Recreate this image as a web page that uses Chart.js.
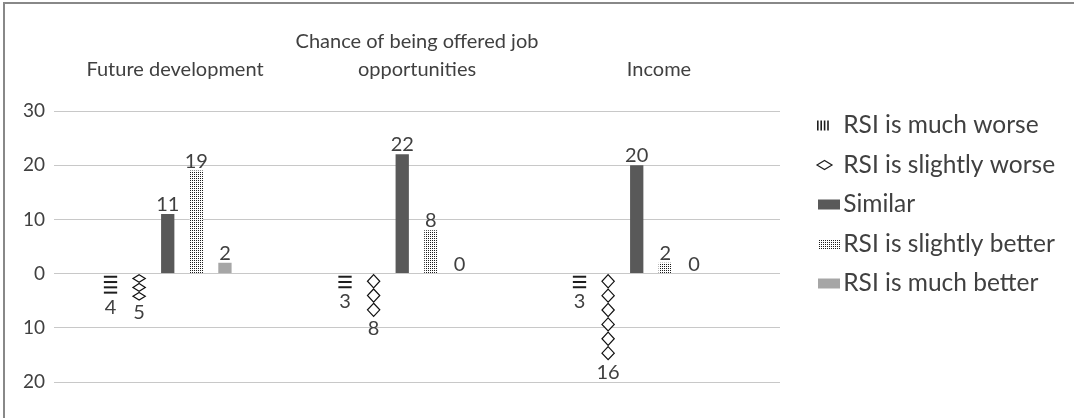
<!DOCTYPE html>
<html>
<head>
<meta charset="utf-8">
<script src="https://cdn.jsdelivr.net/npm/chart.js@4.4.1/dist/chart.umd.min.js"></script>
<style>
  html, body { margin: 0; padding: 0; background: #fff; }
  #wrap { position: relative; width: 1074px; height: 418px; overflow: hidden; }
  #frame { position: absolute; left: 3px; top: 2px; width: 1080px; height: 430px; border: 2px solid #888; }
  canvas { position: absolute; left: 0; top: 0; }
</style>
</head>
<body>
<div id="wrap">
  <div id="frame"></div>
  <canvas id="myChart" width="1074" height="418"></canvas>
</div>
<script>
const categories = ['Future development', ['Chance of being offered job', 'opportunities'], 'Income'];
const seriesNames = ['RSI is much worse', 'RSI is slightly worse', 'Similar', 'RSI is slightly better', 'RSI is much better'];

// counts per category (worse answers are drawn below zero)
const muchWorse = [4, 3, 3];
const slightlyWorse = [5, 8, 16];
const similar = [11, 22, 20];
const slightlyBetter = [19, 8, 2];
const muchBetter = [2, 0, 0];

const yTicks = [-20, -10, 0, 10, 20, 30];

const textColor = '#404040';
const fontFamily = 'Lato, "Open Sans", sans-serif';
const legendFontSize = 24.5;
const legendPadding = 15;
const legendBox = 36;

function toPoints(values, sign) {
  return values.map((v, i) => ({x: i, y: sign * v}));
}

// legend width, so the plot ends where the legend starts (x = 780)
const measure = document.createElement('canvas').getContext('2d');
measure.font = legendFontSize + 'px ' + fontFamily;
const legendTextWidth = Math.max(...seriesNames.map(s => measure.measureText(s).width));
const legendWidth = legendPadding + legendBox + legendFontSize / 2 + legendTextWidth + 10;
const rightPad = 1074 - 780 - legendWidth;

// dotted fill for "slightly better"
function dotsCanvas() {
  const c = document.createElement('canvas');
  c.width = 2; c.height = 2;
  const g = c.getContext('2d');
  g.fillStyle = '#ffffff'; g.fillRect(0, 0, 2, 2);
  g.fillStyle = '#1e1e1e'; g.fillRect(0, 0, 1, 1);
  return c;
}
const dots = document.createElement('canvas').getContext('2d').createPattern(dotsCanvas(), 'repeat');

// legend icons (wide canvas so the icon sits right of the box centre)
function legendIcon(kind) {
  const c = document.createElement('canvas');
  c.width = 60; c.height = 12;
  const g = c.getContext('2d');
  const x0 = 34;
  if (kind === 'lines') {
    g.fillStyle = '#1e1e1e';
    for (let k = 0; k < 4; k++) g.fillRect(x0 + k * 3.4, 1, 1.6, 10);
  } else if (kind === 'diamond') {
    g.strokeStyle = '#1e1e1e';
    g.lineWidth = 1.2;
    g.beginPath();
    g.moveTo(x0, 6); g.lineTo(x0 + 7.5, 1.5); g.lineTo(x0 + 15, 6); g.lineTo(x0 + 7.5, 10.5); g.closePath();
    g.stroke();
  } else {
    g.fillStyle = kind === 'dots' ? g.createPattern(dotsCanvas(), 'repeat') : kind;
    g.fillRect(x0 + 1, 1, 22, 10);
  }
  return c;
}
const legendIcons = [legendIcon('lines'), legendIcon('diamond'), legendIcon('#595959'), legendIcon('dots'), legendIcon('#a6a6a6')];

// draws the two "worse" series as stacked marks inside each bar's box
const pictograms = {
  id: 'pictograms',
  afterDatasetsDraw(chart) {
    const ctx = chart.ctx;
    ctx.save();
    [0, 1].forEach((di) => {
      const ds = chart.data.datasets[di];
      chart.getDatasetMeta(di).data.forEach((bar, i) => {
        const n = Math.abs(ds.data[i].y);
        if (!n) return;
        const top = Math.min(bar.y, bar.base);
        const h = Math.abs(bar.y - bar.base);
        const w = bar.width;
        if (di === 0) {
          ctx.strokeStyle = '#1e1e1e';
          ctx.lineWidth = 2;
          const step = h / n;
          for (let k = 0; k < n; k++) {
            const y = top + step * (k + 0.5);
            ctx.beginPath();
            ctx.moveTo(bar.x - w / 2, y);
            ctx.lineTo(bar.x + w / 2, y);
            ctx.stroke();
          }
        } else {
          const count = Math.max(3, Math.round(h / 14));
          const dh = h / count;
          const hw = (w - 1) / 2;
          ctx.strokeStyle = '#111';
          ctx.fillStyle = '#fff';
          ctx.lineWidth = 1.2;
          for (let k = 0; k < count; k++) {
            const y0 = top + dh * k + 0.6;
            const y1 = top + dh * (k + 1) - 0.6;
            ctx.beginPath();
            ctx.moveTo(bar.x, y0);
            ctx.lineTo(bar.x + hw, (y0 + y1) / 2);
            ctx.lineTo(bar.x, y1);
            ctx.lineTo(bar.x - hw, (y0 + y1) / 2);
            ctx.closePath();
            ctx.fill();
            ctx.stroke();
          }
        }
      });
    });
    ctx.restore();
  }
};

// value labels, shown as counts (no sign)
const valueLabels = {
  id: 'valueLabels',
  afterDatasetsDraw(chart) {
    const ctx = chart.ctx;
    ctx.save();
    ctx.font = '20px ' + fontFamily;
    ctx.fillStyle = textColor;
    ctx.textAlign = 'center';
    chart.data.datasets.forEach((ds, di) => {
      chart.getDatasetMeta(di).data.forEach((bar, i) => {
        const v = ds.data[i].y;
        if (v < 0) {
          ctx.textBaseline = 'top';
          ctx.fillText(String(-v), bar.x, bar.y + 2);
        } else {
          ctx.textBaseline = 'alphabetic';
          ctx.fillText(String(v), bar.x, bar.y - 3);
        }
      });
    });
    ctx.restore();
  }
};

const ctx = document.getElementById('myChart').getContext('2d');
const myChart = new Chart(ctx, {
  type: 'bar',
  data: {
    datasets: [
      {label: seriesNames[0], data: toPoints(muchWorse, -1), backgroundColor: 'rgba(0,0,0,0)'},
      {label: seriesNames[1], data: toPoints(slightlyWorse, -1), backgroundColor: 'rgba(0,0,0,0)'},
      {label: seriesNames[2], data: toPoints(similar, 1), backgroundColor: '#595959'},
      {label: seriesNames[3], data: toPoints(slightlyBetter, 1), backgroundColor: dots},
      {label: seriesNames[4], data: toPoints(muchBetter, 1), backgroundColor: '#a6a6a6'}
    ]
  },
  options: {
    responsive: false,
    animation: false,
    devicePixelRatio: 1,
    categoryPercentage: 0.61,
    barPercentage: 0.465,
    layout: {padding: {top: 0, right: rightPad, bottom: 9, left: 0}},
    scales: {
      x: {
        type: 'linear',
        min: -0.485,
        max: 2.611,
        offset: false,
        afterBuildTicks(scale) { scale.ticks = categories.map((c, i) => ({value: i})); },
        ticks: {display: false},
        grid: {display: false},
        border: {display: false},
        afterFit(scale) { scale.height = 27; }
      },
      xTop: {
        type: 'category',
        position: 'top',
        labels: categories,
        grid: {display: false, drawTicks: false},
        border: {display: false},
        ticks: {
          color: textColor,
          font: {family: fontFamily, size: 20, lineHeight: 1.4},
          padding: 27,
          maxRotation: 0,
          autoSkip: false
        },
        afterFit(scale) { scale.height = 111; }
      },
      y: {
        min: yTicks[0],
        max: yTicks[yTicks.length - 1],
        afterBuildTicks(scale) { scale.ticks = yTicks.map(v => ({value: v})); },
        ticks: {
          color: textColor,
          font: {family: fontFamily, size: 19},
          padding: 9,
          callback: v => Math.abs(v)
        },
        grid: {color: '#c8c8c8', lineWidth: 1, drawTicks: false},
        border: {display: false},
        afterFit(scale) { scale.width = 54; }
      }
    },
    plugins: {
      legend: {
        position: 'right',
        align: 'center',
        maxWidth: 320,
        labels: {
          usePointStyle: true,
          pointStyleWidth: legendBox,
          padding: legendPadding,
          color: textColor,
          font: {family: fontFamily, size: legendFontSize, lineHeight: 1.2},
          generateLabels: (chart) => chart.data.datasets.map((ds, i) => ({
            text: ds.label,
            pointStyle: legendIcons[i],
            fillStyle: 'rgba(0,0,0,0)',
            strokeStyle: 'rgba(0,0,0,0)',
            lineWidth: 0,
            fontColor: textColor,
            hidden: false,
            datasetIndex: i
          }))
        }
      },
      tooltip: {enabled: false}
    }
  },
  plugins: [pictograms, valueLabels]
});
</script>
</body>
</html>
